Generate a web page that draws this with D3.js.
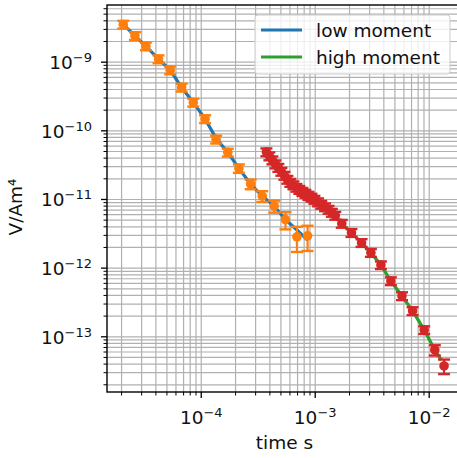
<!DOCTYPE html>
<html>
<head>
<meta charset="utf-8">
<script src="https://cdn.jsdelivr.net/npm/d3@7"></script>
<style>
  html, body { margin: 0; padding: 0; background: #fff; }
  svg { display: block; font-family: "DejaVu Sans", sans-serif; }
</style>
</head>
<body>
<svg id="chart" width="457" height="458"></svg>
<script>
// ---- data ----
const lowT = [2.07e-5, 2.62e-5, 3.27e-5, 4.22e-5, 5.34e-5, 6.73e-5, 8.51e-5, 1.08e-4, 1.35e-4, 1.71e-4, 2.14e-4, 2.71e-4, 3.43e-4, 4.37e-4, 5.48e-4, 6.91e-4, 8.57e-4];
const lowV = [3.54e-9, 2.42e-9, 1.71e-9, 1.11e-9, 7.65e-10, 4.29e-10, 2.59e-10, 1.49e-10, 7.51e-11, 4.85e-11, 2.84e-11, 1.68e-11, 1.12e-11, 8.02e-12, 5.10e-12, 2.86e-12, 2.96e-12];
const lowErr = [4.6e-10, 3.15e-10, 2.2e-10, 1.44e-10, 9.9e-11, 5.6e-11, 3.4e-11, 1.94e-11, 9.8e-12, 6.3e-12, 4.0e-12, 2.7e-12, 2.0e-12, 1.6e-12, 1.43e-12, 1.14e-12, 1.18e-12];

const lowFitT = [1.94e-5, 2.07e-5, 2.62e-5, 3.27e-5, 4.22e-5, 5.34e-5, 6.73e-5, 8.51e-5, 1.08e-4, 1.35e-4, 1.71e-4, 2.14e-4, 2.71e-4, 3.43e-4, 4.37e-4, 5.48e-4, 6.91e-4, 8.57e-4];
const lowFitV = [3.86e-9, 3.54e-9, 2.42e-9, 1.71e-9, 1.11e-9, 7.65e-10, 4.29e-10, 2.59e-10, 1.49e-10, 7.8e-11, 4.85e-11, 2.84e-11, 1.68e-11, 1.12e-11, 8.02e-12, 5.10e-12, 3.59e-12, 2.56e-12];

const highT = [3.73e-4, 3.96e-4, 4.21e-4, 4.48e-4, 4.75e-4, 5.05e-4, 5.37e-4, 5.70e-4, 6.05e-4, 6.44e-4, 6.84e-4, 7.26e-4, 7.72e-4, 8.20e-4, 8.71e-4, 9.27e-4, 9.84e-4, 1.06e-3, 1.13e-3, 1.22e-3, 1.31e-3, 1.40e-3, 1.50e-3, 1.71e-3, 2.08e-3, 2.55e-3, 3.08e-3, 3.77e-3, 4.61e-3, 5.77e-3, 7.15e-3, 9.04e-3, 1.12e-2, 1.35e-2];
const highV = [4.90e-11, 4.28e-11, 3.74e-11, 3.27e-11, 2.91e-11, 2.55e-11, 2.23e-11, 1.95e-11, 1.76e-11, 1.62e-11, 1.49e-11, 1.39e-11, 1.30e-11, 1.22e-11, 1.14e-11, 1.07e-11, 9.97e-12, 9.16e-12, 8.43e-12, 7.75e-12, 7.13e-12, 6.45e-12, 5.83e-12, 4.46e-12, 3.28e-12, 2.34e-12, 1.68e-12, 1.11e-12, 6.49e-13, 3.93e-13, 2.38e-13, 1.26e-13, 6.43e-14, 3.76e-14];
const highErr = [6.4e-12, 5.6e-12, 4.9e-12, 4.3e-12, 3.8e-12, 3.3e-12, 2.9e-12, 2.5e-12, 2.3e-12, 2.1e-12, 1.9e-12, 1.8e-12, 1.7e-12, 1.6e-12, 1.5e-12, 1.4e-12, 1.3e-12, 1.2e-12, 1.1e-12, 1.0e-12, 9.3e-13, 8.4e-13, 7.6e-13, 5.8e-13, 4.3e-13, 3.0e-13, 2.2e-13, 1.4e-13, 8.4e-14, 5.1e-14, 3.1e-14, 1.6e-14, 1.1e-14, 9.0e-15];

const highFitT = [3.73e-4, 5.05e-4, 6.84e-4, 9.27e-4, 1.22e-3, 1.50e-3, 1.71e-3, 2.08e-3, 2.55e-3, 3.08e-3, 3.77e-3, 4.61e-3, 5.77e-3, 7.15e-3, 9.04e-3, 1.12e-2, 1.28e-2];
const highFitV = [4.90e-11, 2.55e-11, 1.49e-11, 1.07e-11, 7.75e-12, 5.83e-12, 4.46e-12, 3.28e-12, 2.34e-12, 1.68e-12, 1.11e-12, 6.49e-13, 3.93e-13, 2.38e-13, 1.26e-13, 6.43e-14, 4.59e-14];

const xMajor = [1e-4, 1e-3, 1e-2];
const xMajorExp = ["−4", "−3", "−2"];
const yMajor = [1e-13, 1e-12, 1e-11, 1e-10, 1e-9];
const yMajorExp = ["−13", "−12", "−11", "−10", "−9"];
const seriesNames = ["low moment", "high moment"];

// ---- layout ----
const C = { blue: "#1f77b4", orange: "#ff7f0e", green: "#2ca02c", red: "#d62728" };
const L = 107, R = 462, T = 5, B = 392;
const svg = d3.select("#chart");

const x = d3.scaleLog().domain([1.49e-5, 1.94e-2]).range([L, R]);
const y = d3.scaleLog().domain([1.57e-14, 6.8e-9]).range([B, T]);

const xAll = x.ticks().filter(v => !xMajor.some(m => Math.abs(m - v) / m < 1e-6));
const yAll = y.ticks().filter(v => !yMajor.some(m => Math.abs(m - v) / m < 1e-6));

svg.append("defs").append("clipPath").attr("id", "clip")
  .append("rect").attr("x", L).attr("y", T).attr("width", R - L).attr("height", B - T);

// grid
const grid = svg.append("g").attr("stroke", "#b0b0b0").attr("stroke-width", 1.2);
grid.selectAll(".gx").data(xAll.concat(xMajor)).join("line")
  .attr("x1", d => x(d)).attr("x2", d => x(d)).attr("y1", T).attr("y2", B);
grid.selectAll(".gy").data(yAll.concat(yMajor)).join("line")
  .attr("y1", d => y(d)).attr("y2", d => y(d)).attr("x1", L).attr("x2", R);

const plot = svg.append("g").attr("clip-path", "url(#clip)");
const line = d3.line().x(d => x(d[0])).y(d => y(d[1]));

// fit lines
plot.append("path").datum(lowFitT.map((t, i) => [t, lowFitV[i]]))
  .attr("d", line).attr("fill", "none").attr("stroke", C.blue).attr("stroke-width", 3.2);
plot.append("path").datum(highFitT.map((t, i) => [t, highFitV[i]]))
  .attr("d", line).attr("fill", "none").attr("stroke", C.green).attr("stroke-width", 3.2);

function errorbars(ts, vs, es, color) {
  const g = plot.append("g");
  const data = ts.map((t, i) => ({ t, v: vs[i], e: es[i] }));
  const cap = 6;
  data.forEach(d => {
    const cx = x(d.t);
    const y1 = y(d.v + d.e), y0 = y(Math.max(d.v - d.e, 1e-20));
    g.append("line").attr("x1", cx).attr("x2", cx).attr("y1", y1).attr("y2", y0)
      .attr("stroke", color).attr("stroke-width", 2.2);
    g.append("line").attr("x1", cx - cap).attr("x2", cx + cap).attr("y1", y1).attr("y2", y1)
      .attr("stroke", color).attr("stroke-width", 2.4);
    g.append("line").attr("x1", cx - cap).attr("x2", cx + cap).attr("y1", y0).attr("y2", y0)
      .attr("stroke", color).attr("stroke-width", 2.4);
  });
  g.selectAll("circle").data(data).join("circle")
    .attr("cx", d => x(d.t)).attr("cy", d => y(d.v)).attr("r", 4.8).attr("fill", color);
}
errorbars(lowT, lowV, lowErr, C.orange);
errorbars(highT, highV, highErr, C.red);

// frame
svg.append("rect").attr("x", L).attr("y", T).attr("width", R - L).attr("height", B - T)
  .attr("fill", "none").attr("stroke", "#000").attr("stroke-width", 1.4);

// ticks
const tk = svg.append("g").attr("stroke", "#000");
tk.selectAll(".xM").data(xMajor).join("line")
  .attr("x1", d => x(d)).attr("x2", d => x(d)).attr("y1", B).attr("y2", B + 6).attr("stroke-width", 1.3);
tk.selectAll(".xm").data(xAll).join("line")
  .attr("x1", d => x(d)).attr("x2", d => x(d)).attr("y1", B).attr("y2", B + 3.5).attr("stroke-width", 1);
tk.selectAll(".yM").data(yMajor).join("line")
  .attr("y1", d => y(d)).attr("y2", d => y(d)).attr("x1", L).attr("x2", L - 6).attr("stroke-width", 1.3);
tk.selectAll(".ym").data(yAll).join("line")
  .attr("y1", d => y(d)).attr("y2", d => y(d)).attr("x1", L).attr("x2", L - 3.5).attr("stroke-width", 1);

// tick labels
const fs = 18.5;
xMajor.forEach((v, i) => {
  const t = svg.append("text").attr("x", x(v)).attr("y", 423.5).attr("text-anchor", "middle")
    .attr("font-size", fs).attr("fill", "#111");
  t.append("tspan").text("10");
  t.append("tspan").attr("dy", -7).attr("font-size", 13).text(xMajorExp[i]);
});
yMajor.forEach((v, i) => {
  const t = svg.append("text").attr("x", 92).attr("y", y(v) + 7).attr("text-anchor", "end")
    .attr("font-size", fs).attr("fill", "#111");
  t.append("tspan").text("10");
  t.append("tspan").attr("dy", -7).attr("font-size", 13).text(yMajorExp[i]);
});

// axis labels
svg.append("text").attr("x", (L + R) / 2).attr("y", 449).attr("text-anchor", "middle")
  .attr("font-size", fs).attr("fill", "#111").text("time s");
svg.append("text").attr("transform", `translate(21.5,207) rotate(-90)`).attr("text-anchor", "middle")
  .attr("font-size", fs).attr("fill", "#111").text("V/Am⁴");

// legend
const lg = svg.append("g");
lg.append("rect").attr("x", 255).attr("y", 15).attr("width", 195).attr("height", 59).attr("rx", 3)
  .attr("fill", "#fff").attr("fill-opacity", 0.8).attr("stroke", "#cccccc").attr("stroke-width", 1);
const lcol = [C.blue, C.green];
seriesNames.forEach((n, i) => {
  const yy = 30 + i * 27;
  lg.append("line").attr("x1", 261).attr("x2", 302).attr("y1", yy).attr("y2", yy)
    .attr("stroke", lcol[i]).attr("stroke-width", 3.2);
  lg.append("text").attr("x", 316).attr("y", yy + 6.5).attr("font-size", fs).attr("fill", "#111").text(n);
});
</script>
</body>
</html>
